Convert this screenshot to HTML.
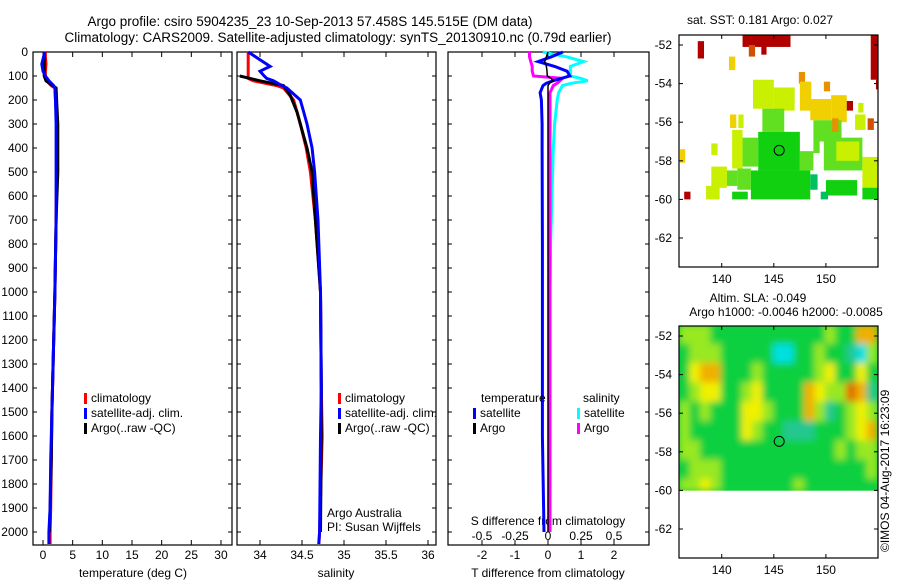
<!DOCTYPE html>
<html><head><meta charset="utf-8"><style>
body{margin:0;background:#fff;width:900px;height:580px;overflow:hidden}
svg{font-family:"Liberation Sans",sans-serif;font-size:12px}
</style></head><body>
<svg id="c" width="900" height="580" xmlns="http://www.w3.org/2000/svg">
<defs>
<filter id="blur" x="-5%" y="-5%" width="110%" height="110%"><feGaussianBlur stdDeviation="3.5"/></filter>
<clipPath id="slaclip"><rect x="679" y="326" width="199" height="165"/></clipPath>
</defs>
<text x="310" y="26" font-size="13.5" text-anchor="middle">Argo profile: csiro 5904235_23 10-Sep-2013 57.458S 145.515E (DM data)</text>
<text x="338" y="42" font-size="13.5" text-anchor="middle">Climatology: CARS2009. Satellite-adjusted climatology: synTS_20130910.nc (0.79d earlier)</text>
<text x="760" y="24" text-anchor="middle">sat. SST: 0.181 Argo: 0.027</text>
<text x="758" y="302" text-anchor="middle">Altim. SLA: -0.049</text>
<text x="786" y="316" text-anchor="middle">Argo h1000: -0.0046 h2000: -0.0085</text>
<text transform="translate(889,552) rotate(-90)">©IMOS 04-Aug-2017 16:23:09</text>
</svg>
<script>
// ---- profile data ----
const tDepth=[0,20,50,80,100,120,140,150,200,300,500,700,1000,1300,1500,1700,1900,2000,2050];
const tClim=[0.4,0.4,0.5,0.4,0.4,0.6,1.4,2.0,2.1,2.3,2.3,2.2,2.0,1.7,1.5,1.4,1.3,1.2,1.2];
const tSat=[0.3,0.1,-0.2,0.0,0.4,1.0,1.8,2.0,2.1,2.2,2.2,2.2,2.0,1.7,1.5,1.3,1.2,1.0,1.0];
const tArgoDepth=[0,20,50,80,100,120,140,150,200,300,500,700,1000,1300,1500,1700,1900,2000];
const tArgo=[0.2,0.2,0.2,0.2,0.2,0.5,1.6,2.2,2.3,2.5,2.5,2.2,2.0,1.7,1.5,1.4,1.2,1.1];
const sDepth=[0,60,80,100,110,120,140,150,200,250,300,400,500,700,1000,1400,1600,2000,2050];
const sClim=[33.86,33.86,33.86,33.86,33.86,33.92,34.2,34.28,34.4,34.44,34.48,34.55,34.6,34.66,34.72,34.73,34.74,34.71,34.7];
const sSat=[33.86,34.12,34.0,34.05,34.08,34.16,34.26,34.32,34.48,34.52,34.56,34.62,34.65,34.69,34.72,34.73,34.72,34.71,34.7];
const sArgoDepth=[100,120,140,180,250,400,500,700,800,1000,1400,1600,2000];
const sArgo=[33.76,34.0,34.28,34.36,34.44,34.56,34.62,34.66,34.68,34.72,34.73,34.73,34.72];
const dDepth=[0,20,40,60,80,100,110,120,130,140,170,200,300,400,800,1200,1600,2000];
const dTSat=[0.45,0.1,-0.3,0.2,0.58,0.66,0.4,0.15,-0.05,-0.15,-0.24,-0.2,-0.18,-0.18,-0.17,-0.17,-0.17,-0.12];
const dTArgo=[0.0,-0.05,-0.1,-0.05,-0.03,-0.02,0.1,0.15,0.05,0.0,0.0,0.0,0.0,0.0,0.0,0.0,0.0,0.0];
const dSSat=[-0.04,0.14,0.27,0.17,0.17,0.17,0.25,0.3,0.18,0.11,0.08,0.07,0.05,0.04,0.02,0.01,0.01,0.01];
const dSArgo=[-0.14,-0.14,-0.13,-0.12,-0.12,-0.11,0.11,0.09,0.07,0.04,0.015,0.015,0.015,0.015,0.015,0.015,0.015,0.015];
const depthTicks=[0,100,200,300,400,500,600,700,800,900,1000,1100,1200,1300,1400,1500,1600,1700,1800,1900,2000];
const tTicks=[0,5,10,15,20,25,30];
const sTicks=[34,34.5,35,35.5,36];
const sTickLabels=["34","34.5","35","35.5","36"];
const dTTicks=[-2,-1,0,1,2];
const dSTicks=[-0.5,-0.25,0,0.25,0.5];
const dSTickLabels=["-0.5","-0.25","0","0.25","0.5"];
// ---- map data ----
const lonTicks=[140,145,150];
const latTicks=[-52,-54,-56,-58,-60,-62];
// SST rects: lon0,lon1,lat0,lat1,level
const sstRects=[
[142.0,146.6,-51.5,-52.1,7],[137.7,138.3,-51.8,-52.7,7],[142.6,143.2,-52.0,-52.6,6],[143.8,144.3,-52.0,-52.5,7],
[154.3,155.0,-51.5,-53.8,7],[154.8,155.0,-53.8,-54.3,7],[140.7,141.3,-52.6,-53.3,4],[147.4,148.0,-53.4,-54.0,5],
[143.0,145.0,-53.8,-55.3,3],[145.0,147.0,-54.2,-55.4,3],[147.5,148.6,-53.9,-55.4,4],[149.8,150.4,-53.9,-54.4,5],
[148.5,150.5,-54.8,-55.9,4],[150.5,152.0,-54.6,-56.0,4],[152.0,152.6,-54.9,-55.4,7],[153.1,153.6,-55.0,-55.5,3],
[140.8,141.4,-55.6,-56.3,4],[141.6,142.1,-55.6,-56.3,3],[143.9,146.0,-55.3,-56.5,2],[148.8,151.5,-55.9,-57.0,2],
[150.6,151.2,-55.8,-56.5,5],[152.8,153.8,-55.6,-56.4,3],[154.0,154.6,-55.8,-56.4,6],[136.0,136.5,-57.4,-58.1,4],
[139.0,139.6,-57.1,-57.7,3],[141.0,142.0,-56.4,-58.4,3],[142.0,143.5,-56.8,-58.3,2],[143.5,147.5,-56.5,-58.5,1],
[147.5,148.8,-57.5,-58.5,2],[148.8,149.4,-57.0,-57.6,2],[149.8,153.5,-56.8,-58.5,2],[151.0,153.2,-57.0,-58.0,3],
[153.5,155.0,-57.8,-59.5,3],[139.0,140.5,-58.3,-59.4,3],[140.5,141.5,-58.5,-59.3,2],[141.5,142.8,-58.4,-59.5,2],
[142.8,148.5,-58.5,-60.0,1],[148.5,149.2,-58.7,-59.5,0],[150.0,153.0,-59.0,-59.8,1],[153.5,155.0,-59.4,-60.0,1],
[136.4,137.0,-59.6,-60.0,7],[138.5,139.8,-59.3,-60.0,3],[141.0,142.5,-59.6,-60.0,1],[149.5,150.2,-59.6,-60.0,0]];
const sstColors=["#00c060","#10d010","#60e020","#c8f000","#f0d000","#e89000","#d05000","#b00000"];
const slaRows=[
"3332222222222232255",
"2333222220022322103",
"2455222322222342242",
"2344223422225433651",
"3232224432225312343",
"3222224322111222345",
"3322222222222223233",
"2333222222222222223",
"3343222222232222222"];
const slaColors=["#00e0e0","#20c890","#10d040","#98e820","#f0f000","#f0b000","#e07000"];
const argoLon=145.515, argoLat=-57.458;

const NS="http://www.w3.org/2000/svg";
const svg=document.getElementById('c');
function mk(tag,attrs,parent){const e=document.createElementNS(NS,tag);for(const k in attrs)e.setAttribute(k,attrs[k]);(parent||svg).appendChild(e);return e;}
function txt(s,x,y,anchor,parent,name){const e=mk('text',{x:x,y:y,'text-anchor':anchor||'middle'},parent);e.textContent=s;

return e;}

const PT=52,PB=545;
const yD=d=>PT+d*0.24;
const panels=[{x0:33,x1:232},{x0:237,x1:436},{x0:448,x1:649}];
const xT=v=>43+v*5.933, xS=v=>260+(v-34)*84, xDT=v=>548+v*33, xDS=v=>548+v*132;

function step(xs,ds,xf,color,name,w){
  let p='';for(let i=0;i<xs.length;i++){const x=xf(xs[i]).toFixed(1),y=yD(ds[i]).toFixed(1);p+=(i?'L':'M')+x+' '+y;}
  const e=mk('path',{d:p,fill:'none',stroke:color,'stroke-width':w||3});
  
  
}
panels.forEach((p,i)=>{
  const r=mk('rect',{x:p.x0,y:PT,width:p.x1-p.x0,height:PB-PT,fill:'none',stroke:'#000','stroke-width':1.2});
  
  
  depthTicks.forEach(d=>{mk('line',{x1:p.x0,x2:p.x0+4,y1:yD(d),y2:yD(d),stroke:'#000'});mk('line',{x1:p.x1,x2:p.x1-4,y1:yD(d),y2:yD(d),stroke:'#000'});});
});
depthTicks.forEach(d=>txt(String(d),28,yD(d)+4,'end',svg,'depth-tick-label'));
function xticks(vals,labels,f,y){vals.forEach((v,i)=>{const x=f(v);mk('line',{x1:x,x2:x,y1:PT,y2:PT+5,stroke:'#000'});mk('line',{x1:x,x2:x,y1:PB,y2:PB-5,stroke:'#000'});txt(labels[i],x,y,'middle',svg,'x-tick-label');});}
xticks(tTicks,tTicks.map(String),xT,559);
xticks(sTicks,sTickLabels,xS,559);
xticks(dTTicks,dTTicks.map(String),xDT,559);
dSTicks.forEach((v,i)=>txt(dSTickLabels[i],xDS(v),540,'middle',svg,'s-diff-tick-label'));
txt('temperature (deg C)',133,577,'middle',svg,'temperature-axis-title');
txt('salinity',336,577,'middle',svg,'salinity-axis-title');
txt('T difference from climatology',548,577,'middle',svg,'t-diff-axis-title');
txt('S difference from climatology',548,525,'middle',svg,'s-diff-axis-title');
txt('Argo Australia',327,517,'start',svg,'argo-australia-label');
txt('PI: Susan Wijffels',327,531,'start',svg,'pi-label');

step(tClim,tDepth,xT,'#f00','temp-climatology-line');
step(tArgo,tArgoDepth,xT,'#000','temp-argo-line');
step(tSat,tDepth,xT,'#00f','temp-satellite-line');
step(sClim,sDepth,xS,'#f00','sal-climatology-line');
step(sArgo,sArgoDepth,xS,'#000','sal-argo-line');
step(sSat,sDepth,xS,'#00f','sal-satellite-line');
step(dSSat,dDepth,xDS,'#00ffff','sdiff-satellite-line');
step(dSArgo,dDepth,xDS,'#ff00ff','sdiff-argo-line');
step(dTSat,dDepth,xDT,'#0000ff','tdiff-satellite-line');
step(dTArgo,dDepth,xDT,'#000','tdiff-argo-line',1.5);

function legend(x,y,items){items.forEach((it,i)=>{mk('rect',{x:x,y:y+i*15-9,width:3,height:11,fill:it[1]});txt(it[0],x+7,y+i*15,'start',svg,'legend-entry');});}
legend(84,402,[['climatology','#f00'],['satellite-adj. clim.','#00f'],['Argo(..raw -QC)','#000']]);
legend(338,402,[['climatology','#f00'],['satellite-adj. clim.','#00f'],['Argo(..raw -QC)','#000']]);
txt('temperature',481,402,'start',svg,'legend-temperature-header');
txt('salinity',583,402,'start',svg,'legend-salinity-header');
legend(473,417,[['satellite','#00f'],['Argo','#000']]);
legend(577,417,[['satellite','#00ffff'],['Argo','#ff00ff']]);

// ---- maps ----
function map(top,name,draw){
  const L=679,R=878,B=top+232;
  const x=lon=>L+(lon-135.9)*10.42, y=lat=>top+10+(-52-lat)*19.3;
  const g=mk('g',{});
  
  
  draw(g,x,y);
  const c=mk('circle',{cx:x(argoLon),cy:y(argoLat),r:5,fill:'none',stroke:'#000'},g);
  
  
  mk('rect',{x:L,y:top,width:R-L,height:B-top,fill:'none',stroke:'#000','stroke-width':1.2},g);
  latTicks.forEach(la=>{mk('line',{x1:L,x2:L+4,y1:y(la),y2:y(la),stroke:'#000'},g);mk('line',{x1:R,x2:R-4,y1:y(la),y2:y(la),stroke:'#000'},g);txt(String(la),672,y(la)+4,'end',g,'lat-tick-label');});
  lonTicks.forEach(lo=>{mk('line',{x1:x(lo),x2:x(lo),y1:top,y2:top+4,stroke:'#000'},g);mk('line',{x1:x(lo),x2:x(lo),y1:B,y2:B-4,stroke:'#000'},g);txt(String(lo),x(lo),B+16,'middle',g,'lon-tick-label');});
}
map(35,'sst-map',(g,x,y)=>{
  sstRects.forEach(r=>{const e=mk('rect',{x:x(r[0]),y:y(r[2]),width:x(r[1])-x(r[0]),height:y(r[3])-y(r[2]),fill:sstColors[r[4]]},g);
  
  });
});
map(326,'sla-map',(g,x,y)=>{
  const clip=mk('g',{'clip-path':'url(#slaclip)'},g);
  mk('rect',{x:x(135.9),y:y(-51.4),width:x(155)-x(135.9),height:y(-60)-y(-51.4),fill:slaColors[2]},clip);
  const bl=mk('g',{filter:'url(#blur)'},clip);
  slaRows.forEach((row,ri)=>{
    const la0=-51.4-ri*1.0, la1=Math.max(la0-1.0,-60);
    for(let ci=0;ci<row.length;ci++){
      const lo0=135.9+ci*1.0, lo1=Math.min(lo0+1.0,155.0);
      const e=mk('rect',{x:x(lo0),y:y(la0),width:x(lo1)-x(lo0)+0.5,height:y(la1)-y(la0)+0.5,fill:slaColors[+row[ci]]},bl);
      
      
    }
  });
});
</script>
</body></html>
